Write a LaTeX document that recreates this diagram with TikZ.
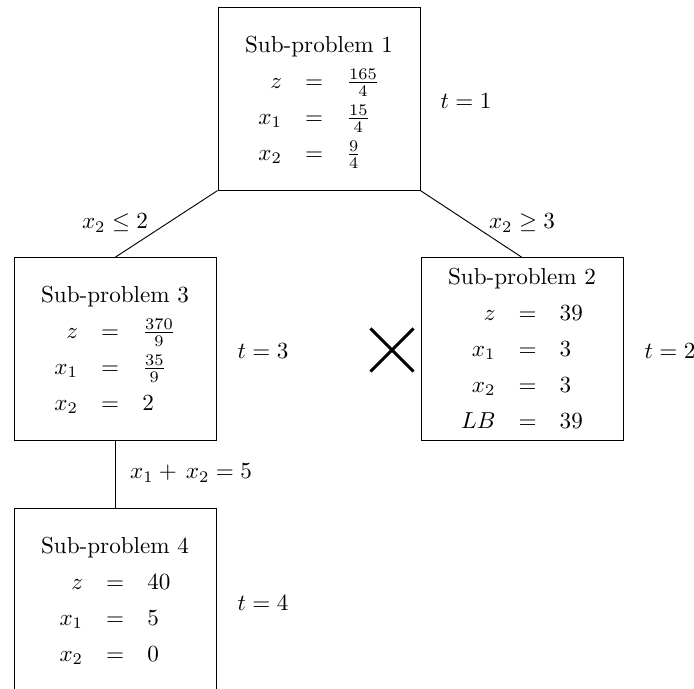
\documentclass[tikz,border=0pt]{standalone}
\usepackage{amsmath,amssymb}
\usetikzlibrary{shapes.misc}

\begin{document}
\begin{tikzpicture}[x=0.0152cm,y=-0.0152cm,
    subproblem/.style={draw,minimum width=3.07cm,minimum height=2.77cm,inner sep=0pt},
    pruned/.style={cross out,draw,minimum size=0.61cm,inner sep=0pt,line width=1.3pt}]
  \useasboundingbox (0,0) rectangle (694,689);
  \renewcommand{\arraystretch}{1.3}

  % Sub-problems
  \node[subproblem] (SP1) at (319,99)
    {\begin{tabular}{c}Sub-problem 1\\
      $\begin{array}{rcl} z & = & \frac{165}{4}\\ x_1 & = & \frac{15}{4}\\ x_2 & = & \frac{9}{4}\end{array}$
     \end{tabular}};
  \node[subproblem] (SP3) at (115,349)
    {\begin{tabular}{c}Sub-problem 3\\
      $\begin{array}{rcl} z & = & \frac{370}{9}\\ x_1 & = & \frac{35}{9}\\ x_2 & = & 2\end{array}$
     \end{tabular}};
  \node[subproblem] (SP2) at (522,349)
    {\begin{tabular}{c}Sub-problem 2\\
      $\begin{array}{rcl} z & = & 39\\ x_1 & = & 3\\ x_2 & = & 3\\ LB & = & 39\end{array}$
     \end{tabular}};
  \node[subproblem] (SP4) at (115,600)
    {\begin{tabular}{c}Sub-problem 4\\
      $\begin{array}{rcl} z & = & 40\\ x_1 & = & 5\\ x_2 & = & 0\end{array}$
     \end{tabular}};

  % Branches
  \draw (SP1.south west) -- (SP3.north);
  \draw (SP1.south east) -- (SP2.north);
  \draw (SP3.south) -- (SP4.north);

  % Branching constraints
  \node (b1) at (115,223) {$x_2 \leq 2$};
  \node (b2) at (522,223) {$x_2 \geq 3$};
  \node (b3) at (191,473) {$x_1 + \, x_2 = 5$};

  % Iterations
  \node (t1) at (466,101) {$t = 1$};
  \node (t3) at (263,351) {$t = 3$};
  \node (t2) at (670,351) {$t = 2$};
  \node (t4) at (263,603) {$t = 4$};

  % Pruned node
  \node[pruned] (cut) at (392,350) {};
\end{tikzpicture}
\end{document}
